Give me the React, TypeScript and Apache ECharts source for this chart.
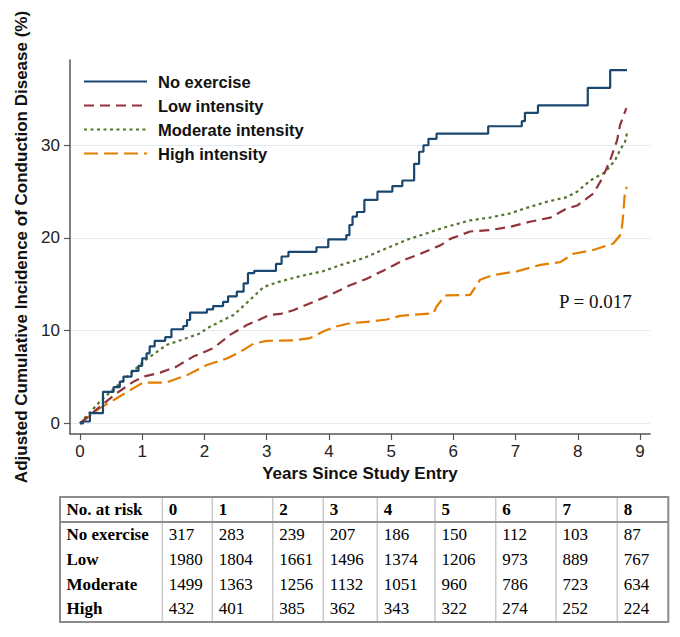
import React, { useEffect, useRef } from "react";
import * as echarts from "echarts";

// ---- Curve data: [years, adjusted cumulative incidence %] ----
const noExercise: [number, number][] = [
  [0, 0], [0.05, 0.2], [0.16, 1.1], [0.37, 3.4], [0.54, 3.9], [0.64, 4.5], [0.7, 5.05], [0.83, 5.65],
  [0.94, 6.2], [1.0, 7.0], [1.07, 7.55], [1.12, 8.3], [1.2, 8.9], [1.37, 9.3], [1.47, 10.15], [1.66, 10.5],
  [1.72, 11.15], [1.77, 11.95], [2.04, 12.3], [2.14, 12.65], [2.3, 13.1], [2.38, 13.7], [2.52, 14.2],
  [2.63, 15.1], [2.7, 16.2], [2.8, 16.45], [3.15, 17.2], [3.24, 18.0], [3.35, 18.5], [3.8, 19.0],
  [3.99, 19.85], [4.28, 20.3], [4.33, 21.4], [4.38, 22.3], [4.45, 22.8], [4.57, 24.1], [4.78, 25.0],
  [5.02, 25.6], [5.18, 26.2], [5.37, 28.0], [5.45, 29.3], [5.52, 30.0], [5.6, 30.7], [5.73, 31.25],
  [6.56, 32.05], [7.1, 32.6], [7.15, 33.5], [7.36, 34.3], [8.16, 36.2], [8.52, 38.1], [8.79, 38.1],
];
const lowIntensity: [number, number][] = [
  [0, 0], [0.32, 1.8], [0.59, 3.25], [0.86, 4.5], [1.02, 5.04], [1.29, 5.47], [1.55, 6.12], [1.82, 7.2],
  [2.14, 8.1], [2.41, 9.54], [2.68, 10.6], [2.89, 11.2], [3.05, 11.7], [3.22, 11.8], [3.43, 12.2],
  [3.75, 13.1], [4.02, 13.85], [4.34, 14.9], [4.61, 15.6], [4.88, 16.5], [5.2, 17.6], [5.47, 18.3],
  [5.79, 19.2], [5.95, 19.9], [6.27, 20.7], [6.59, 20.85], [6.91, 21.2], [7.23, 21.75], [7.56, 22.2],
  [7.8, 23.1], [7.99, 23.5], [8.25, 24.8], [8.39, 26.4], [8.52, 28.4], [8.63, 30.5], [8.68, 32.2], [8.78, 34.0],
];
const moderateIntensity: [number, number][] = [
  [0, 0], [0.32, 2.35], [0.64, 4.3], [1.02, 6.66], [1.39, 8.46], [1.63, 9.0], [1.93, 9.7], [2.04, 10.26],
  [2.47, 11.7], [2.73, 13.3], [2.95, 14.7], [3.16, 15.2], [3.55, 15.9], [3.9, 16.4], [4.2, 17.1],
  [4.55, 17.8], [4.72, 18.3], [5.04, 19.2], [5.25, 19.8], [5.57, 20.5], [5.84, 21.1], [6.11, 21.6],
  [6.27, 21.9], [6.59, 22.2], [6.91, 22.65], [7.18, 23.25], [7.5, 23.9], [7.82, 24.4], [7.99, 25.0],
  [8.2, 26.2], [8.44, 27.1], [8.6, 28.4], [8.68, 29.5], [8.76, 30.4], [8.79, 31.3],
];
const highIntensity: [number, number][] = [
  [0, 0], [0.32, 1.64], [0.59, 2.7], [0.86, 3.8], [1.02, 4.4], [1.39, 4.4], [1.72, 5.2], [2.04, 6.3],
  [2.36, 7.0], [2.57, 7.7], [2.79, 8.6], [3.0, 8.9], [3.43, 8.95], [3.7, 9.2], [3.91, 9.9], [4.07, 10.37],
  [4.34, 10.8], [4.66, 10.97], [4.93, 11.2], [5.14, 11.6], [5.68, 11.87], [5.73, 12.6], [5.87, 13.8],
  [6.27, 13.85], [6.43, 15.5], [6.64, 16.0], [7.02, 16.4], [7.4, 17.1], [7.72, 17.4], [7.93, 18.3],
  [8.25, 18.7], [8.57, 19.4], [8.68, 20.3], [8.71, 21.2], [8.73, 22.6], [8.76, 25.2], [8.79, 25.5],
];

const seriesNames = ["No exercise", "Low intensity", "Moderate intensity", "High intensity"];
const xTicks = [0, 1, 2, 3, 4, 5, 6, 7, 8, 9];
const yTicks = [0, 10, 20, 30];
const pValueText = "P = 0.017";

// ---- Number at risk table ----
const riskHeader = ["No. at risk", "0", "1", "2", "3", "4", "5", "6", "7", "8"];
const riskGroups = ["No exercise", "Low", "Moderate", "High"];
const riskNoExercise = [317, 283, 239, 207, 186, 150, 112, 103, 87];
const riskLow = [1980, 1804, 1661, 1496, 1374, 1206, 973, 889, 767];
const riskModerate = [1499, 1363, 1256, 1132, 1051, 960, 786, 723, 634];
const riskHigh = [432, 401, 385, 362, 343, 322, 274, 252, 224];

const SANS = "'Liberation Sans', Arial, Helvetica, sans-serif";
const SERIF = "'Liberation Serif', 'Times New Roman', serif";

function buildTable(): any[] {
  const colX = [60, 162.3, 212.3, 272.7, 323.3, 377.3, 435, 495.7, 556, 617.3, 668.3];
  const top = 497;
  const headerBottom = 522;
  const bottom = 622;
  const rowCenters = [509.5, 534.5, 559.5, 584, 608.5];
  const els: any[] = [];
  for (let i = 1; i < colX.length - 1; i++) {
    els.push({
      type: "line",
      shape: { x1: colX[i], y1: top, x2: colX[i], y2: bottom },
      style: { stroke: "#c9c9c9", lineWidth: 1.5 },
    });
  }
  els.push({
    type: "line",
    shape: { x1: colX[0], y1: headerBottom, x2: colX[colX.length - 1], y2: headerBottom },
    style: { stroke: "#8c8c8c", lineWidth: 2 },
  });
  els.push({
    type: "rect",
    shape: { x: colX[0], y: top, width: colX[colX.length - 1] - colX[0], height: bottom - top },
    style: { fill: "none", stroke: "#8c8c8c", lineWidth: 2 },
  });
  const rows: (string | number)[][] = [
    riskHeader,
    [riskGroups[0], ...riskNoExercise],
    [riskGroups[1], ...riskLow],
    [riskGroups[2], ...riskModerate],
    [riskGroups[3], ...riskHigh],
  ];
  rows.forEach((row, r) => {
    row.forEach((cell, c) => {
      const bold = r === 0 || c === 0;
      els.push({
        type: "text",
        x: colX[c] + 6.5,
        y: rowCenters[r],
        style: {
          text: String(cell),
          font: `${bold ? "bold " : ""}17px ${SERIF}`,
          fill: "#000",
          textAlign: "left",
          textVerticalAlign: "middle",
        },
      });
    });
  });
  return els;
}

export default function App() {
  const ref = useRef<HTMLDivElement>(null);

  useEffect(() => {
    document.body.style.margin = "0";
    if (!ref.current) return;
    const chart = echarts.init(ref.current, undefined, { renderer: "svg" });
    const colors = ["#1a476f", "#90353b", "#55752f", "#e37e00"];
    const datasets = [noExercise, lowIntensity, moderateIntensity, highIntensity];
    const dashes: any[] = ["solid", [10, 6], [3, 3.5], [14, 6]];

    chart.setOption({
      animation: false,
      backgroundColor: "#ffffff",
      grid: { left: 70, right: 30, top: 60, bottom: 203, containLabel: false },
      legend: {
        orient: "vertical",
        left: 83,
        top: 73,
        padding: 0,
        itemWidth: 63,
        itemHeight: 14,
        itemGap: 7,
        data: seriesNames,
        itemStyle: { opacity: 0 },
        textStyle: {
          fontFamily: SANS,
          fontWeight: "bold",
          fontSize: 16.5,
          color: "#111",
          padding: [0, 0, 0, 6],
        },
      },
      xAxis: {
        type: "value",
        min: -0.16,
        max: 9.16,
        name: "Years Since Study Entry",
        nameLocation: "middle",
        nameGap: 21,
        nameTextStyle: { fontFamily: SANS, fontWeight: "bold", fontSize: 17, color: "#111" },
        axisLine: { show: true, onZero: false, lineStyle: { color: "#555", width: 1.5 } },
        axisTick: { show: true, length: 6, customValues: xTicks, lineStyle: { color: "#555", width: 1.2 } },
        axisLabel: {
          customValues: xTicks,
          margin: 9,
          fontFamily: SANS,
          fontSize: 17,
          color: "#222",
        },
        splitLine: { show: false },
      },
      yAxis: {
        type: "value",
        min: -1.15,
        max: 39.2,
        name: "Adjusted Cumulative Incidence of Conduction Disease (%)",
        nameLocation: "middle",
        nameGap: 37,
        nameRotate: 90,
        nameTextStyle: { fontFamily: SANS, fontWeight: "bold", fontSize: 17, color: "#111" },
        axisLine: { show: true, onZero: false, lineStyle: { color: "#555", width: 1.5 } },
        axisTick: { show: true, length: 6, customValues: yTicks, lineStyle: { color: "#555", width: 1.2 } },
        axisLabel: {
          customValues: yTicks,
          margin: 10,
          fontFamily: SANS,
          fontSize: 17,
          color: "#222",
        },
        splitLine: { show: true, lineStyle: { color: "#e4ecf1", width: 1.2 } },
      },
      series: datasets.map((d, i) => ({
        name: seriesNames[i],
        type: "line",
        data: d,
        step: i === 0 ? "end" : false,
        symbol: "none",
        showSymbol: false,
        z: 10 - i,
        lineStyle: { color: colors[i], width: i === 0 ? 2.2 : 2.2, type: dashes[i] },
        itemStyle: { color: colors[i] },
      })),
      graphic: [
        {
          type: "text",
          x: 559,
          y: 301,
          style: {
            text: pValueText,
            font: `19px ${SERIF}`,
            fill: "#111",
            textAlign: "left",
            textVerticalAlign: "middle",
          },
        },
        ...buildTable(),
      ],
    });

    return () => chart.dispose();
  }, []);

  return <div ref={ref} style={{ width: 680, height: 637 }} />;
}
